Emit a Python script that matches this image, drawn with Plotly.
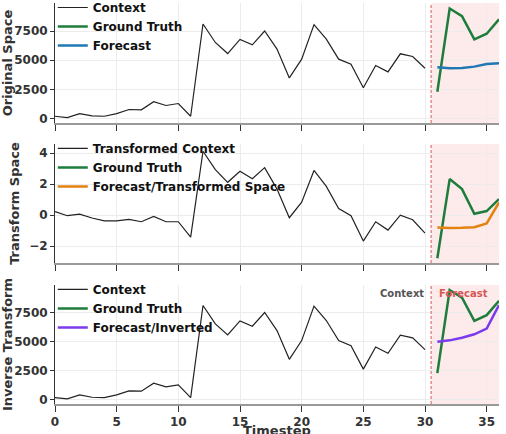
import plotly.graph_objects as go
from plotly.subplots import make_subplots

# ---- data ----
t_context = list(range(0, 31))
t_future = list(range(31, 37))

context = [200, 90, 430, 230, 200, 430, 780, 750, 1440, 1120, 1290, 200,
           8100, 6520, 5570, 6780, 6320, 7500, 5950, 3480, 5090, 8050, 6810,
           5090, 4660, 2640, 4540, 4000, 5550, 5320, 4310]
ground_truth = [2300, 9430, 8770, 6780, 7270, 8510]
forecast = [4400, 4310, 4340, 4450, 4680, 4740]

context_tf = [0.22, -0.04, 0.06, -0.19, -0.37, -0.37, -0.28, -0.43, -0.09, -0.43,
              -0.43, -1.43, 4.13, 2.94, 2.12, 2.83, 2.35, 3.07, 1.68, -0.17, 0.84,
              2.89, 1.86, 0.43, -0.04, -1.68, -0.43, -0.97, 0.0, -0.30, -1.17]
ground_truth_tf = [-2.79, 2.33, 1.68, 0.09, 0.26, 1.04]
forecast_tf = [-0.80, -0.84, -0.82, -0.78, -0.54, 0.82]

forecast_inv = [5000, 5110, 5340, 5630, 6120, 8130]

split_t = 30.5
x_end = 36
x_ticks = [0, 5, 10, 15, 20, 25, 30, 35]
y_titles = ["Original Space", "Transform Space", "Inverse Transform"]
x_title = "Timestep"

# ---- style ----
FONT = "DejaVu Sans"
C_CTX = "#222222"
C_GT = "#1e7d3c"
C_FC = "#1f77b4"
C_TF = "#e3820f"
C_INV = "#7c3aed"
C_SPLIT = "#e88a8a"

fig = make_subplots(rows=3, cols=1, shared_xaxes=True, vertical_spacing=0.05)

def add(row, x, y, name, color, width, legend):
    fig.add_trace(go.Scatter(x=x, y=y, mode="lines", name=name,
                             line=dict(color=color, width=width),
                             legend=legend), row=row, col=1)

add(1, t_context, context, "Context", C_CTX, 1.2, "legend")
add(1, t_future, ground_truth, "Ground Truth", C_GT, 2.5, "legend")
add(1, t_future, forecast, "Forecast", C_FC, 2.5, "legend")

add(2, t_context, context_tf, "Transformed Context", C_CTX, 1.2, "legend2")
add(2, t_future, ground_truth_tf, "Ground Truth", C_GT, 2.5, "legend2")
add(2, t_future, forecast_tf, "Forecast/Transformed Space", C_TF, 2.5, "legend2")

add(3, t_context, context, "Context", C_CTX, 1.2, "legend3")
add(3, t_future, ground_truth, "Ground Truth", C_GT, 2.5, "legend3")
add(3, t_future, forecast_inv, "Forecast/Inverted", C_INV, 2.5, "legend3")

domains = [[0.7007, 1.0], [0.3516, 0.6484], [0.0, 0.2968]]
yranges = [[-380, 9900], [-3.1, 4.6], [-350, 9860]]
yticks = [[0, 2500, 5000, 7500], [-2, 0, 2, 4], [0, 2500, 5000, 7500]]

tickfont = dict(family=FONT, size=12, color="#333333", weight="bold")
titlefont = dict(family=FONT, size=13, color="#333333", weight="bold")

for i in range(3):
    r = i + 1
    ax = "" if r == 1 else str(r)
    fig.update_yaxes(row=r, col=1, domain=domains[i], range=yranges[i],
                     tickvals=yticks[i], ticks="outside", ticklen=4,
                     tickcolor="#333333", showgrid=True, gridcolor="#ececec",
                     gridwidth=1, zeroline=False, showline=True,
                     linecolor="#333333", linewidth=1, tickfont=tickfont,
                     title=dict(text=y_titles[i], font=titlefont, standoff=6))
    fig.update_xaxes(row=r, col=1, range=[0, x_end], tickvals=x_ticks,
                     ticks="outside", ticklen=6, tickcolor="#333333",
                     showgrid=True, gridcolor="#ececec", gridwidth=1,
                     zeroline=False, showline=True, linecolor="#999999",
                     linewidth=2, tickfont=tickfont,
                     showticklabels=(r == 3))
    fig.add_shape(type="rect", xref="x" + ax, yref="y" + ax + " domain",
                  x0=split_t, x1=x_end, y0=0, y1=1, fillcolor="rgba(240,80,80,0.12)",
                  line=dict(width=0), layer="below")
    fig.add_shape(type="line", xref="x" + ax, yref="y" + ax + " domain",
                  x0=split_t, x1=split_t, y0=0, y1=1,
                  line=dict(color=C_SPLIT, width=1.5, dash="3px,2px"))

# x-axis title as an annotation just below the tick labels
fig.add_annotation(x=0.5, y=-0.043, xref="paper", yref="paper", text=x_title,
                   showarrow=False, xanchor="center", yanchor="top",
                   font=titlefont)

fig.add_annotation(x=split_t - 0.45, y=0.93, xref="x3", yref="y3 domain",
                   text="Context", showarrow=False, xanchor="right", yanchor="middle",
                   font=dict(family=FONT, size=10, color="#555555", weight="bold"))
fig.add_annotation(x=split_t + 0.45, y=0.93, xref="x3", yref="y3 domain",
                   text="Forecast", showarrow=False, xanchor="left", yanchor="middle",
                   font=dict(family=FONT, size=10, color="#d95555", weight="bold"))

legfont = dict(family=FONT, size=12, color="#111111", weight="bold")
leg = dict(x=-0.005, xanchor="left", yanchor="top", bgcolor="rgba(0,0,0,0)",
           font=legfont, tracegroupgap=0, itemwidth=30, borderwidth=0)
fig.update_layout(
    legend=dict(leg, y=1.025),
    legend2=dict(leg, y=domains[1][1] + 0.025),
    legend3=dict(leg, y=domains[2][1] + 0.025),
    width=506, height=434,
    margin=dict(l=55, r=7, t=3, b=30, autoexpand=False),
    plot_bgcolor="white", paper_bgcolor="white",
    font=dict(family=FONT),
)

fig.write_html("out.html")
